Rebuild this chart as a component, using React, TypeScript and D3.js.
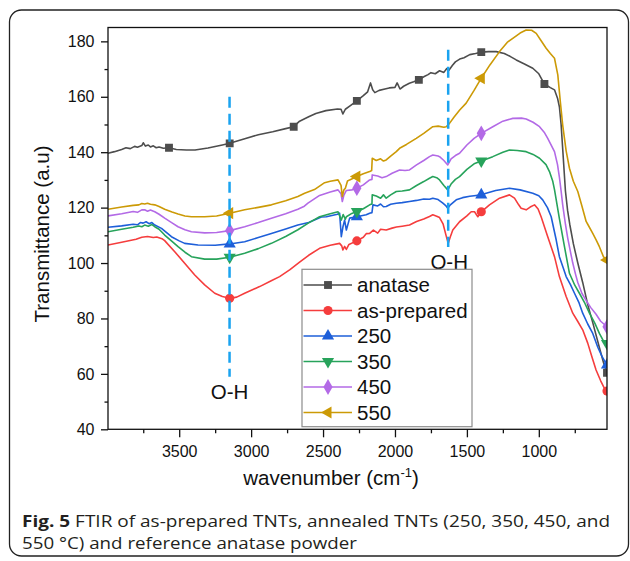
import React, { useRef, useEffect } from "react";
import * as d3 from "d3";

// [wavenumber, transmittance]
const anatase: [number, number][] = [
  [3995, 139.6], [3950, 140.2], [3900, 141], [3870, 141.6], [3840, 141.3], [3810, 142.1], [3790, 141.8],
  [3760, 142.4], [3750, 143.4], [3735, 142.2], [3715, 142.6], [3700, 141.9], [3680, 142.3], [3660, 141.6],
  [3640, 141.9], [3610, 141.4], [3571, 141.6], [3520, 141], [3450, 140.8], [3390, 140.8], [3300, 141.5],
  [3200, 142.6], [3149, 143.2], [3050, 144.8], [2950, 146.3], [2850, 147.4], [2760, 148.5], [2704, 149.2],
  [2663, 151.2], [2600, 152.8], [2550, 154], [2480, 155], [2400, 155.6], [2375, 155.5], [2362, 153.8],
  [2345, 155.5], [2310, 156.8], [2265, 158.5], [2220, 160.4], [2190, 161.8], [2170, 165], [2155, 162.5],
  [2140, 161.5], [2110, 162.3], [2070, 162.8], [2040, 163.2], [2000, 163.4], [1985, 165], [1965, 162.8],
  [1940, 163.8], [1900, 164.9], [1870, 165.4], [1834, 166.1], [1800, 167.2], [1770, 168], [1750, 168.7],
  [1720, 168.3], [1690, 169.4], [1660, 168.8], [1640, 170.2], [1625, 169.6], [1600, 171.4], [1580, 172.6],
  [1550, 173.6], [1520, 174.1], [1480, 175.2], [1440, 175.6], [1400, 176.1], [1350, 176.3], [1296, 176.3],
  [1240, 175.6], [1200, 174.6], [1157, 173.3], [1100, 171.8], [1042, 170.3], [1000, 168.3], [961, 164.6],
  [920, 163.3], [891, 162.5], [870, 159.5], [857, 156.4], [845, 150], [830, 138], [815, 126], [800, 119],
  [785, 114], [760, 107], [729, 100], [695, 93], [660, 85], [625, 78.5], [579, 69.5], [550, 64], [526, 60.4],
];

const asPrepared: [number, number][] = [
  [3995, 106.5], [3900, 107.5], [3800, 108.6], [3760, 109.3], [3720, 109.6], [3680, 109.2], [3656, 109.4],
  [3620, 108.8], [3601, 108.1], [3531, 104.1], [3462, 99.9], [3392, 95.7], [3323, 92.1], [3253, 89.1],
  [3200, 87.9], [3149, 87.3], [3100, 87.7], [3045, 89.1], [2941, 91.5], [2860, 93.6], [2802, 95.1],
  [2730, 97.6], [2663, 100.3], [2600, 102.8], [2524, 105.3], [2450, 106.4], [2385, 107.1], [2370, 106.2],
  [2362, 104.7], [2350, 106], [2338, 104.9], [2320, 106.7], [2265, 108], [2220, 109.3], [2200, 110.6],
  [2176, 110.7], [2150, 111.9], [2120, 110.8], [2100, 112.2], [2061, 111.9], [2020, 112.6], [1990, 113],
  [1950, 113.3], [1899, 113.7], [1850, 115], [1800, 115.9], [1760, 116.8], [1737, 117.4], [1710, 116.9],
  [1690, 116.4], [1665, 114], [1645, 110], [1630, 107.1], [1615, 109.5], [1598, 111.9], [1551, 114.9],
  [1500, 117], [1470, 118.5], [1447, 118.5], [1424, 116.7], [1400, 118.5], [1343, 121], [1273, 123.4],
  [1204, 124.6], [1169, 123.4], [1140, 121], [1123, 119.8], [1088, 119.2], [1060, 120.2], [1030, 121],
  [1005, 119.5], [984, 116.7], [938, 109.5], [891, 102.3], [857, 95.1], [810, 87.9], [764, 81.9],
  [730, 79], [695, 75.9], [660, 71.1], [630, 66], [602, 61.4], [570, 57.5], [544, 54.8], [526, 53.8],
];

const t250: [number, number][] = [
  [3995, 112.9], [3900, 113.4], [3820, 114], [3790, 113.8], [3770, 114.6], [3751, 114.4], [3730, 114.9],
  [3710, 114.2], [3690, 114.6], [3670, 113.7], [3623, 112.5], [3554, 109.5], [3500, 108], [3462, 107.1],
  [3369, 106.5], [3250, 106.4], [3149, 106.9], [3045, 107.7], [2950, 109.2], [2859, 110.7], [2760, 112.3],
  [2675, 113.7], [2600, 114.6], [2512, 116.6], [2477, 116.7], [2400, 117.6], [2385, 118], [2373, 109.5],
  [2362, 113], [2350, 115.5], [2338, 111.9], [2315, 116.2], [2265, 116.7], [2200, 117.4], [2176, 118],
  [2160, 118.2], [2153, 121], [2120, 120.6], [2100, 121.3], [2080, 120.3], [2061, 120.4], [2030, 121.2],
  [1991, 121.6], [1950, 121.8], [1899, 122.2], [1850, 122.6], [1800, 123.1], [1760, 123], [1737, 123.4],
  [1700, 122.9], [1667, 121.6], [1645, 120.6], [1633, 119.8], [1615, 121], [1574, 122.8], [1530, 123.6],
  [1480, 124.1], [1450, 124.3], [1400, 124.6], [1366, 125.2], [1300, 126.2], [1204, 127], [1130, 126.4],
  [1042, 125.2], [1000, 124.3], [973, 122.8], [940, 120], [914, 116.7], [879, 108.3], [857, 102.3],
  [830, 98.2], [810, 95.1], [780, 92.2], [752, 89.1], [720, 85.6], [695, 81.9], [660, 78], [625, 74.6],
  [590, 69.6], [560, 66.2], [526, 63.2],
];

const t350: [number, number][] = [
  [3995, 111.3], [3900, 112.2], [3820, 112.9], [3780, 113.4], [3760, 113.1], [3740, 113.7], [3715, 113.3],
  [3690, 113.9], [3670, 113.1], [3640, 112.2], [3601, 110.1], [3550, 107.8], [3508, 105.9], [3460, 103.9],
  [3415, 102.3], [3323, 101.4], [3240, 101.4], [3149, 102.1], [3045, 103.5], [2950, 105.2], [2859, 107.1],
  [2760, 109.6], [2675, 112], [2600, 114.5], [2524, 116.7], [2450, 117.8], [2396, 118.5], [2373, 115.5],
  [2360, 117.5], [2345, 115.8], [2338, 116.7], [2300, 117.9], [2265, 118.6], [2220, 119.6], [2176, 121],
  [2160, 121.3], [2158, 124.6], [2130, 124.2], [2100, 123.4], [2080, 124.6], [2061, 123.4], [2030, 124.6],
  [1991, 125.8], [1950, 126], [1899, 126.4], [1850, 128], [1800, 129.4], [1760, 130.6], [1737, 131.2],
  [1710, 130.8], [1690, 130], [1660, 128], [1633, 126.4], [1610, 128.5], [1580, 130.2], [1551, 131.2],
  [1500, 133.8], [1450, 135.8], [1400, 136.8], [1320, 138.4], [1250, 140], [1204, 140.8], [1150, 140.6],
  [1088, 140.2], [1040, 139.2], [995, 137.8], [950, 135.5], [926, 133], [903, 129.5], [891, 126.5],
  [857, 116], [822, 106], [787, 96.3], [750, 92], [718, 89.1], [680, 85.5], [648, 81.9], [610, 78.2],
  [579, 74.6], [550, 71.8], [526, 71],
];

const t450: [number, number][] = [
  [3995, 117], [3900, 117.8], [3820, 118.6], [3790, 118.3], [3760, 119.2], [3740, 119.2], [3720, 118.7],
  [3700, 119.1], [3670, 118.5], [3640, 117.6], [3601, 116.2], [3550, 114.5], [3508, 113.1], [3460, 112],
  [3415, 111.3], [3323, 110.9], [3240, 111], [3149, 111.7], [3045, 113.1], [2950, 114.6], [2859, 116.2],
  [2760, 117.8], [2675, 119.4], [2630, 120.5], [2605, 121.6], [2524, 124.4], [2450, 125.6], [2396, 126.4],
  [2375, 125], [2366, 122.2], [2355, 124.5], [2338, 126.2], [2300, 126.4], [2265, 127], [2220, 128.2],
  [2176, 130], [2160, 130.2], [2158, 131.8], [2120, 131.4], [2090, 130.8], [2061, 131.2], [2020, 132.4],
  [1968, 133.6], [1930, 133.4], [1899, 133.6], [1850, 135.4], [1800, 137], [1760, 138.4], [1737, 139],
  [1700, 138.6], [1690, 138.4], [1660, 137], [1633, 135.4], [1610, 137.6], [1580, 138.8], [1551, 139.6],
  [1500, 142.6], [1450, 145], [1400, 146.8], [1320, 149.2], [1250, 151.2], [1181, 152.2], [1120, 152.3],
  [1088, 152], [1040, 150.8], [995, 149.2], [960, 147], [938, 145], [891, 140.2], [870, 135.5], [857, 131],
  [845, 126], [834, 121], [815, 114], [799, 109], [780, 104], [764, 100], [745, 96], [729, 93], [700, 89],
  [671, 86.5], [640, 84], [602, 81.5], [570, 79], [526, 77],
];

const t550: [number, number][] = [
  [3995, 119.4], [3900, 120.2], [3820, 120.8], [3780, 121], [3760, 121.5], [3740, 121.3], [3720, 121.6],
  [3700, 121.2], [3670, 121], [3640, 120.4], [3601, 119.4], [3550, 118.4], [3508, 117.7], [3460, 117],
  [3415, 116.7], [3323, 116.7], [3240, 117], [3149, 118], [3045, 119.2], [2950, 120.1], [2859, 121],
  [2760, 122.5], [2675, 124], [2628, 125.2], [2560, 126.5], [2489, 129], [2450, 129.5], [2396, 130],
  [2375, 128], [2366, 124], [2355, 126.4], [2345, 127], [2330, 129.6], [2315, 130], [2265, 131.2],
  [2220, 132.2], [2176, 133], [2162, 133.4], [2158, 137.8], [2130, 137], [2100, 137.6], [2080, 136.8],
  [2061, 137.2], [2030, 138.6], [1991, 140.2], [1968, 141.4], [1920, 142.8], [1852, 145], [1800, 146.8],
  [1737, 149.2], [1700, 149.4], [1660, 149], [1644, 149.2], [1621, 150.4], [1590, 152.6], [1550, 155.2],
  [1505, 157.7], [1450, 162.3], [1400, 166.7], [1340, 171.5], [1273, 176.3], [1220, 179.6], [1181, 181.1],
  [1130, 183], [1088, 184.1], [1050, 184], [1018, 182.9], [985, 180.3], [949, 177.5], [920, 175.6],
  [891, 173.9], [868, 167.9], [850, 158], [834, 149.8], [810, 140.5], [787, 134.2], [760, 129.5],
  [729, 125.8], [700, 120.5], [671, 115], [660, 114], [625, 110.7], [600, 108.2], [579, 105.9],
  [550, 102.2], [526, 101.1],
];

const seriesNames = ["anatase", "as-prepared", "250", "350", "450", "550"];
const seriesData = [anatase, asPrepared, t250, t350, t450, t550];
const seriesColors = ["#4d4d4d", "#f53d3d", "#1e5fd9", "#27a35b", "#b36ae6", "#cc9a06"];

// where the symbols sit along each curve
const anataseMarks = [3571, 3149, 2704, 2265, 1834, 1400, 961, 526];
const sampleMarks = [3149, 2265, 1400, 526];

const xMajor = [3500, 3000, 2500, 2000, 1500, 1000];
const xMinor = [3750, 3250, 2750, 2250, 1750, 1250, 750];
const yMajor = [40, 60, 80, 100, 120, 140, 160, 180];
const yMinor = [50, 70, 90, 110, 130, 150, 170];

// O-H guide lines: [wavenumber, from, to]
const ohLines: [number, number, number][] = [
  [3150, 160, 59],
  [1630, 177, 105.8],
];

function valueAt(data: [number, number][], wn: number) {
  for (let i = 0; i < data.length - 1; i++) {
    const [x0, y0] = data[i];
    const [x1, y1] = data[i + 1];
    if (wn <= x0 && wn >= x1) {
      const t = x0 === x1 ? 0 : (x0 - wn) / (x0 - x1);
      return y0 + t * (y1 - y0);
    }
  }
  return data[data.length - 1][1];
}

function symbolFor(i: number) {
  const types = [d3.symbolSquare, d3.symbolCircle, d3.symbolTriangle, d3.symbolTriangle, d3.symbolDiamond, d3.symbolTriangle];
  const sizes = [62, 66, 64, 64, 72, 64];
  return d3.symbol().type(types[i]).size(sizes[i])();
}
const symbolRotate = [0, 0, 0, 180, 0, -90];

export default function App() {
  const svgRef = useRef<SVGSVGElement>(null);

  useEffect(() => {
    const svg = d3.select(svgRef.current);
    svg.selectAll("*").remove();

    const font = "Arial, 'Liberation Sans', Helvetica, sans-serif";
    const left = 108, right = 607, top = 27.5, bottom = 429.3;

    const x = d3.scaleLinear().domain([3995, 526]).range([left, right]);
    const y = d3.scaleLinear().domain([40, 185]).range([bottom, top]);

    // outer figure box
    svg.append("rect")
      .attr("x", 9.5).attr("y", 10)
      .attr("width", 619).attr("height", 546)
      .attr("rx", 12)
      .attr("fill", "white")
      .attr("stroke", "#222")
      .attr("stroke-width", 1.3);

    const defs = svg.append("defs");
    defs.append("clipPath").attr("id", "plot-clip")
      .append("rect")
      .attr("x", left).attr("y", top)
      .attr("width", right - left).attr("height", bottom - top);

    // axes
    const xAxis = svg.append("g")
      .attr("transform", `translate(0,${bottom})`)
      .call(d3.axisBottom(x).tickValues(xMajor).tickSize(8).tickPadding(8).tickSizeOuter(0).tickFormat(d3.format("d")));
    const xMinorAxis = svg.append("g")
      .attr("transform", `translate(0,${bottom})`)
      .call(d3.axisBottom(x).tickValues(xMinor).tickSize(4).tickSizeOuter(0).tickFormat(() => ""));
    const yAxis = svg.append("g")
      .attr("transform", `translate(${left},0)`)
      .call(d3.axisLeft(y).tickValues(yMajor).tickSize(7).tickPadding(6.5).tickSizeOuter(0));
    const yMinorAxis = svg.append("g")
      .attr("transform", `translate(${left},0)`)
      .call(d3.axisLeft(y).tickValues(yMinor).tickSize(3.5).tickSizeOuter(0).tickFormat(() => ""));

    [xAxis, xMinorAxis, yAxis, yMinorAxis].forEach((g) => {
      g.select(".domain").remove();
      g.selectAll("line").attr("stroke", "#111").attr("stroke-width", 1.3);
      g.selectAll("text").attr("font-family", font).attr("font-size", 16).attr("fill", "#111");
    });

    // axis titles
    svg.append("text")
      .attr("transform", "translate(49,234) rotate(-90)")
      .attr("text-anchor", "middle")
      .attr("font-family", font)
      .attr("font-size", 20.5)
      .attr("fill", "#111")
      .text("Transmittance (a.u)");

    const xt = svg.append("text")
      .attr("x", 331).attr("y", 485)
      .attr("text-anchor", "middle")
      .attr("font-family", font)
      .attr("font-size", 20.5)
      .attr("fill", "#111");
    xt.append("tspan").text("wavenumber (cm");
    xt.append("tspan").attr("font-size", 13).attr("dy", -8).text("-1");
    xt.append("tspan").attr("dy", 8).text(")");

    // curves
    const plot = svg.append("g").attr("clip-path", "url(#plot-clip)");
    const line = d3.line<[number, number]>()
      .x((d) => x(d[0]))
      .y((d) => y(d[1]));

    seriesData.forEach((data, i) => {
      plot.append("path")
        .datum(data)
        .attr("d", line)
        .attr("fill", "none")
        .attr("stroke", seriesColors[i])
        .attr("stroke-width", 1.6)
        .attr("stroke-linejoin", "round");
    });

    // O-H guides
    ohLines.forEach(([wn, v0, v1]) => {
      svg.append("line")
        .attr("x1", x(wn)).attr("x2", x(wn))
        .attr("y1", y(v0)).attr("y2", y(v1))
        .attr("stroke", "#1aa3f0")
        .attr("stroke-width", 2.5)
        .attr("stroke-dasharray", "11,6");
    });

    // symbols
    seriesData.forEach((data, i) => {
      const marks = i === 0 ? anataseMarks : sampleMarks;
      plot.append("g")
        .selectAll("path")
        .data(marks)
        .enter()
        .append("path")
        .attr("d", symbolFor(i))
        .attr("transform", (wn) => `translate(${x(wn)},${y(valueAt(data, wn))}) rotate(${symbolRotate[i]})`)
        .attr("fill", seriesColors[i]);
    });

    // plot frame
    svg.append("rect")
      .attr("x", left).attr("y", top)
      .attr("width", right - left).attr("height", bottom - top)
      .attr("fill", "none")
      .attr("stroke", "#111")
      .attr("stroke-width", 1.3);

    // O-H labels
    svg.append("text")
      .attr("x", x(ohLines[0][0])).attr("y", 398.5)
      .attr("text-anchor", "middle")
      .attr("font-family", font).attr("font-size", 20.5).attr("fill", "#111")
      .text("O-H");
    svg.append("text")
      .attr("x", x(ohLines[1][0]) + 1).attr("y", 269.3)
      .attr("text-anchor", "middle")
      .attr("font-family", font).attr("font-size", 20.5).attr("fill", "#111")
      .text("O-H");

    // legend
    const legend = svg.append("g").attr("transform", "translate(302,269.3)");
    legend.append("rect")
      .attr("width", 170).attr("height", 157.4)
      .attr("fill", "white")
      .attr("stroke", "#8c8c8c")
      .attr("stroke-width", 1.2);

    seriesNames.forEach((name, i) => {
      const cy = 15.7 + i * 25.5;
      legend.append("line")
        .attr("x1", 1.5).attr("x2", 50)
        .attr("y1", cy).attr("y2", cy)
        .attr("stroke", seriesColors[i])
        .attr("stroke-width", 1.6);
      legend.append("path")
        .attr("d", symbolFor(i))
        .attr("transform", `translate(26,${cy}) rotate(${symbolRotate[i]})`)
        .attr("fill", seriesColors[i]);
      legend.append("text")
        .attr("x", 55).attr("y", cy + 7.3)
        .attr("font-family", font).attr("font-size", 20.5).attr("fill", "#111")
        .text(name);
    });

    // caption
    const capFont = "'Open Sans', 'Noto Sans', sans-serif";
    const cap1 = svg.append("text")
      .attr("x", 22).attr("y", 527)
      .attr("font-family", capFont).attr("font-size", 16.5).attr("fill", "#231f20")
      .attr("textLength", 588).attr("lengthAdjust", "spacingAndGlyphs");
    cap1.append("tspan").attr("font-weight", "bold").text("Fig. 5");
    cap1.append("tspan").text(" FTIR of as-prepared TNTs, annealed TNTs (250, 350, 450, and");
    svg.append("text")
      .attr("x", 22).attr("y", 549)
      .attr("font-family", capFont).attr("font-size", 16.5).attr("fill", "#231f20")
      .attr("textLength", 335).attr("lengthAdjust", "spacingAndGlyphs")
      .text("550 °C) and reference anatase powder");
  }, []);

  return (
    <svg
      ref={svgRef}
      width={630}
      height={561}
      style={{ position: "absolute", left: 0, top: 0, background: "white" }}
    />
  );
}
